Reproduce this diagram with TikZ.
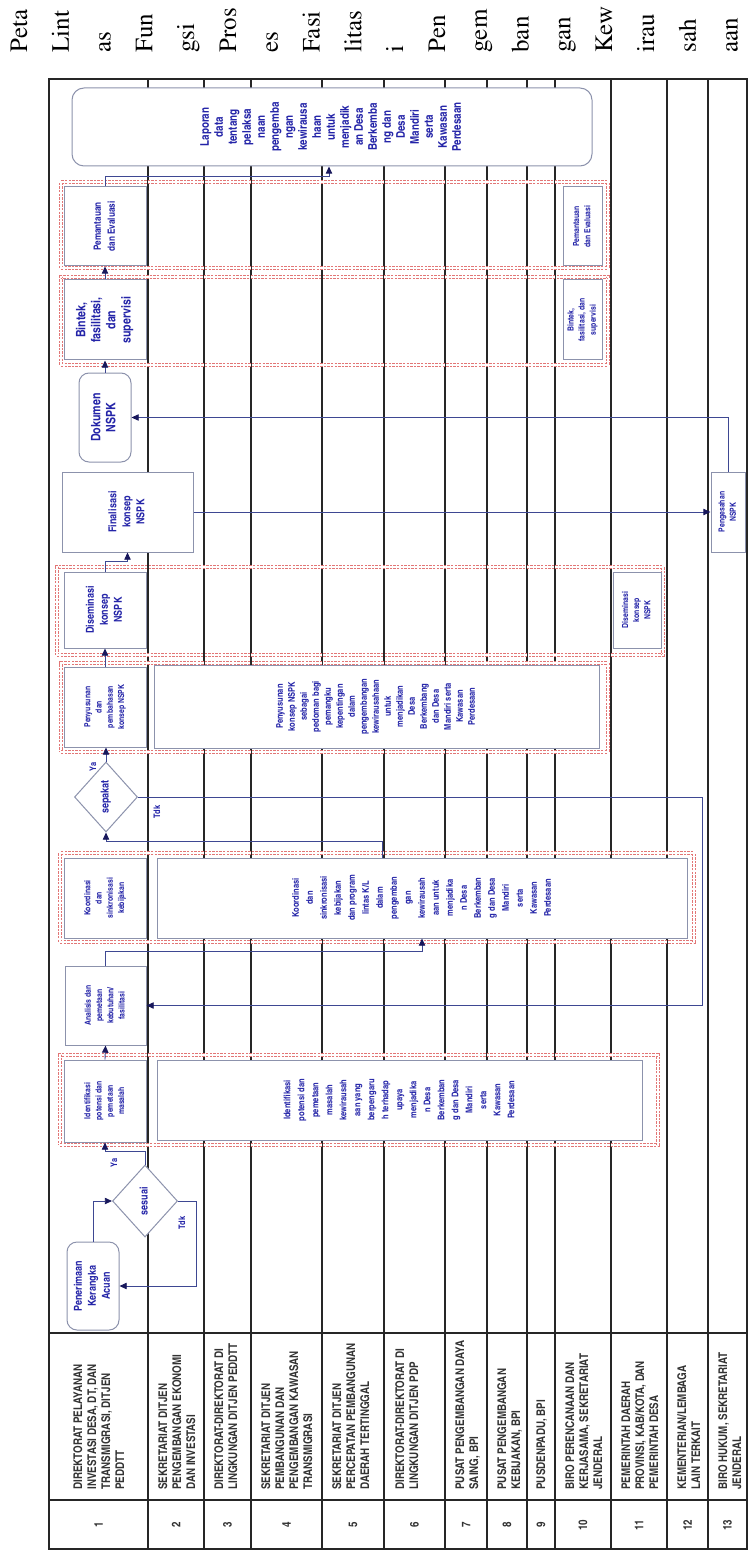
\documentclass[tikz,border=0pt]{standalone}
\usepackage[T1]{fontenc}
\usepackage{graphicx}
\usetikzlibrary{arrows.meta,shapes.geometric,fit,calc}

\definecolor{ink}{RGB}{36,36,168}
\definecolor{edge}{RGB}{140,146,172}
\definecolor{grpred}{RGB}{226,118,118}
\definecolor{wire}{RGB}{62,72,146}
\definecolor{navy}{RGB}{24,24,92}

% narrow bold sans, and vertical text read from bottom to top
\newcommand{\nb}{\fontfamily{phv}\fontseries{bc}}
\newcommand{\vt}[1]{\rotatebox{90}{\begin{tabular}{@{}c@{}}#1\end{tabular}}}
\newcommand{\vl}[1]{\rotatebox{90}{\begin{tabular}{@{}l@{}}#1\end{tabular}}}

\begin{document}
\begin{tikzpicture}[
  x=0.5pt, y=-0.5pt,
  tbl/.style={draw=black!85, line width=0.8pt},
  ttl/.style={font=\fontfamily{ptm}\fontsize{12.5}{15}\selectfont, inner sep=0pt},
  lanelbl/.style={inner sep=0pt, font=\nb\fontsize{6}{7}\selectfont, text=black!80},
  num/.style={inner sep=0pt, font=\nb\fontsize{6}{7}\selectfont, text=black!80},
  proc/.style={draw=edge, fill=white, line width=0.5pt, inner sep=0pt, text=ink,
               font=\nb\fontsize{4.2}{5.6}\selectfont},
  term/.style={proc, rounded corners=5pt},
  wide/.style={proc, font=\nb\fontsize{4.6}{7}\selectfont},
  mid/.style={font=\nb\fontsize{5.5}{7}\selectfont},
  big/.style={font=\nb\fontsize{6.5}{7.5}\selectfont},
  dec/.style={diamond, draw=edge, fill=white, line width=0.5pt, inner sep=0pt, text=ink,
              font=\nb\fontsize{5.5}{6.5}\selectfont},
  grp/.style={draw=grpred, line width=0.35pt, dash pattern=on 1.2pt off 0.6pt,
              double=white, double distance=0.9pt, inner sep=0pt},
  arr/.style={draw=wire, line width=0.45pt, -{Triangle[length=3.6pt, width=3.2pt, color=navy]}},
  lab/.style={inner sep=0pt, text=ink, font=\nb\fontsize{4.5}{5}\selectfont}
]
\useasboundingbox (0,0) rectangle (748,1551);

% ---------------- title ----------------
\foreach \w [count=\i from 0] in {Peta,Lint,as,Fun,gsi,Pros,es,Fasi,litas,i,Pen,gem,ban,gan,Kew,irau,sah,aan}
  \node[ttl, rotate=90, anchor=base west] (ttl\i) at ({27+41.8*\i},53) {\w};

% ---------------- lanes ----------------
\draw[tbl] (49,79) rectangle (747,1549);
\foreach \x in {148,204,251,322,384,445,487,527,555,611,667,708}
  \draw[tbl] (\x,79) -- (\x,1549);
\draw[tbl] (49,1333) -- (747,1333);
\draw[tbl] (49,1500) -- (747,1500);

\node[lanelbl, anchor=south west] (lbl1) at (72,1490)
  {\vl{DIREKTORAT PELAYANAN\\INVESTASI DESA, DT, DAN\\TRANSMIGRASI, DITJEN\\PEDDTT}};
\node[lanelbl, anchor=south west] (lbl2) at (157,1490)
  {\vl{SEKRETARIAT DITJEN\\PENGEMBANGAN EKONOMI\\DAN INVESTASI}};
\node[lanelbl, anchor=south west] (lbl3) at (213,1490)
  {\vl{DIREKTORAT-DIREKTORAT DI\\LINGKUNGAN DITJEN PEDDTT}};
\node[lanelbl, anchor=south west] (lbl4) at (260,1490)
  {\vl{SEKRETARIAT DITJEN\\PEMBANGUNAN DAN\\PENGEMBANGAN KAWASAN\\TRANSMIGRASI}};
\node[lanelbl, anchor=south west] (lbl5) at (331,1490)
  {\vl{SEKRETARIAT DITJEN\\PERCEPATAN PEMBANGUNAN\\DAERAH TERTINGGAL}};
\node[lanelbl, anchor=south west] (lbl6) at (394,1490)
  {\vl{DIREKTORAT-DIREKTORAT DI\\LINGKUNGAN DITJEN PDP}};
\node[lanelbl, anchor=south west] (lbl7) at (454,1490)
  {\vl{PUSAT PENGEMBANGAN DAYA\\SAING, BPI}};
\node[lanelbl, anchor=south west] (lbl8) at (496,1490)
  {\vl{PUSAT PENGEMBANGAN\\KEBIJAKAN, BPI}};
\node[lanelbl, anchor=south west] (lbl9) at (535,1490)
  {\vl{PUSDENPADU, BPI}};
\node[lanelbl, anchor=south west] (lbl10) at (564,1490)
  {\vl{BIRO PERENCANAAN DAN\\KERJASAMA, SEKRETARIAT\\JENDERAL}};
\node[lanelbl, anchor=south west] (lbl11) at (620,1490)
  {\vl{PEMERINTAH DAERAH\\PROVINSI, KAB/KOTA, DAN\\PEMERINTAH DESA}};
\node[lanelbl, anchor=south west] (lbl12) at (676,1490)
  {\vl{KEMENTERIAN/LEMBAGA\\LAIN TERKAIT}};
\node[lanelbl, anchor=south west] (lbl13) at (717,1490)
  {\vl{BIRO HUKUM, SEKRETARIAT\\JENDERAL}};

\foreach \n/\x in {1/98.5,2/176,3/227.5,4/286.5,5/353,6/414.5,7/466,8/507,9/541,10/583,11/639,12/687.5,13/727.5}
  \node[num] (num\n) at (\x,1525) {\rotatebox{90}{\n}};

% ---------------- groups ----------------
\node[grp, fit={(61,182) (608,268)}] (g1) {};
\node[grp, fit={(61,277) (608,365)}] (g2) {};
\node[grp, fit={(57,567) (663,655)}] (g3) {};
\node[grp, fit={(61,663) (608,752)}] (g4) {};
\node[grp, fit={(60,853) (694,942)}] (g5) {};
\node[grp, fit={(60,1055) (658,1145)}] (g6) {};

% ---------------- process ----------------
\node[term, mid, minimum width=26pt, minimum height=44pt] (pener) at (93,1286)
  {\vt{Penerimaan\\Kerangka\\Acuan}};
\node[dec, minimum width=32.5pt, minimum height=36pt] (sesuai) at (145,1201) {\vt{sesuai}};

\node[proc, minimum width=41pt, minimum height=41pt] (ident) at (105,1101)
  {\vt{Identifikasi\\potensi dan\\pemetaan\\masalah}};
\node[wide, minimum width=242.5pt, minimum height=40pt] (identbig) at (399.5,1100)
  {\vt{Identifikasi\\potensi dan\\pemetaan\\masalah\\kewirausah\\aan yang\\berpengaru\\h terhadap\\upaya\\menjadika\\n Desa\\Berkemban\\g dan Desa\\Mandiri\\serta\\Kawasan\\Perdesaan}};

\node[proc, minimum width=40.5pt, minimum height=39.5pt] (anal) at (105.5,1005.5)
  {\vt{Analisis dan\\pemetaan\\kebutuhan/\\fasilitasi}};

\node[proc, minimum width=41pt, minimum height=40pt] (koor) at (105,898)
  {\vt{Koordinasi\\dan\\sinkronisasi\\kebijakan}};
\node[wide, minimum width=265pt, minimum height=40pt] (koorbig) at (422,898)
  {\vt{Koordinasi\\dan\\sinkronisasi\\kebijakan\\dan program\\lintas K/L\\dalam\\pengemban\\gan\\kewirausah\\aan untuk\\menjadika\\n Desa\\Berkemban\\g dan Desa\\Mandiri\\serta\\Kawasan\\Perdesaan}};

\node[dec, minimum width=31.5pt, minimum height=35pt] (sepakat) at (106,797) {\vt{sepakat}};

\node[proc, minimum width=41pt, minimum height=40pt] (peny) at (105,707)
  {\vt{Penyusunan\\dan\\pembahasan\\konsep NSPK}};
\node[wide, font=\nb\fontsize{4.6}{6}\selectfont, minimum width=222.5pt, minimum height=41.5pt] (penybig) at (376.5,706.5)
  {\vt{Penyusunan\\konsep NSPK\\sebagai\\pedoman bagi\\pemangku\\kepentingan\\dalam\\pengembangan\\kewirausahaan\\untuk\\menjadikan\\Desa\\Berkembang\\dan Desa\\Mandiri serta\\Kawasan\\Perdesaan}};

\node[proc, mid, minimum width=41pt, minimum height=38pt] (disem) at (105,610)
  {\vt{Diseminasi\\konsep\\NSPK}};
\node[proc, minimum width=24pt, minimum height=38pt] (disem11) at (637,610)
  {\vt{Diseminasi\\konsep\\NSPK}};

\node[proc, mid, minimum width=65.5pt, minimum height=40pt] (final) at (127.5,512)
  {\vt{Finalisasi\\konsep\\NSPK}};
\node[proc, minimum width=17pt, minimum height=40pt] (penges) at (728,512)
  {\vt{Pengesahan\\NSPK}};

\node[term, big, minimum width=26pt, minimum height=44.5pt] (dok) at (105,417.5)
  {\vt{Dokumen\\NSPK}};

\node[proc, big, minimum width=41pt, minimum height=40pt] (bintek) at (105,320)
  {\vt{Bintek,\\fasilitasi,\\dan\\supervisi}};
\node[proc, minimum width=19.5pt, minimum height=40pt] (bintek10) at (582.5,320)
  {\vt{Bintek,\\fasilitasi, dan\\supervisi}};

\node[proc, font=\nb\fontsize{5}{7}\selectfont, minimum width=41pt, minimum height=39.5pt] (pemant) at (105,226.5)
  {\vt{Pemantauan\\dan Evaluasi}};
\node[proc, minimum width=19.5pt, minimum height=39.5pt] (pemant10) at (582.5,226.5)
  {\vt{Pemantauan\\dan Evaluasi}};

\node[term, rounded corners=6pt, font=\nb\fontsize{6}{7}\selectfont, minimum width=260pt, minimum height=39pt] (lapor) at (332,127)
  {\vt{Laporan\\data\\tentang\\pelaksa\\naan\\pengemba\\ngan\\kewirausa\\haan\\untuk\\menjadik\\an Desa\\Berkemba\\ng dan\\Desa\\Mandiri\\serta\\Kawasan\\Perdesaan}};

% ---------------- connectors ----------------
\draw[arr] (pener.north) |- (sesuai.west);
\draw[arr] (sesuai.east) -- ++(18,0) |- (pener.east);
\draw[arr] (sesuai.north) -- ++(0,-13) -| (ident.south);
\node[lab] (ya1) at (114,1163) {\rotatebox{90}{Ya}};
\node[lab] (tdk1) at (182,1223) {\rotatebox{90}{Tdk}};

\draw[arr] (ident.north) -- (anal.south);
\draw[arr] (anal.north) -- ++(0,-14) -| (koorbig.south);
\draw[arr] ([xshift=-20pt]koorbig.north) -- ++(0,-16) -| (sepakat.south);

\draw[arr] (sepakat.north) -- (sepakat.north |- peny.south);
\draw[arr] (sepakat.east) -- ++(564,0) |- (anal.east);
\node[lab] (ya2) at (93,767) {\rotatebox{90}{Ya}};
\node[lab] (tdk2) at (157,812) {\rotatebox{90}{Tdk}};

\draw[arr] (peny.north) -- (disem.south);
\draw[arr] (disem.north) -- ++(0,-10) -| (final.south);
\draw[arr] (final.east) -- (penges.west);
\draw[arr] (penges.north) |- (dok.east);
\draw[arr] (dok.north) -- (bintek.south);
\draw[arr] (bintek.north) -- (pemant.south);
\draw[arr] (pemant.north) -- ++(0,-10) -| ([xshift=-1.5pt]lapor.south);

\end{tikzpicture}
\end{document}
